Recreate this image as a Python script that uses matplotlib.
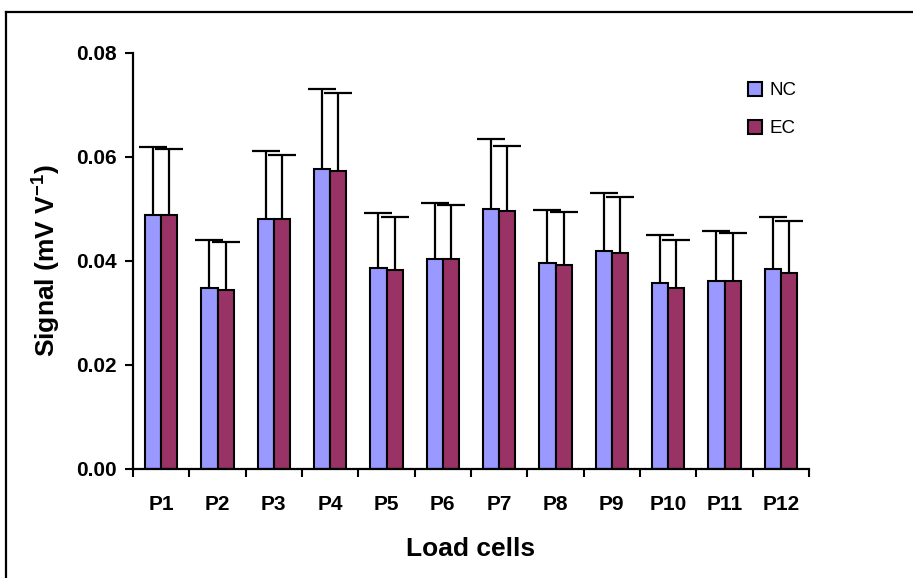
import numpy as np
import matplotlib
matplotlib.use("Agg")
import matplotlib.pyplot as plt
from matplotlib.patches import Patch
from matplotlib.lines import Line2D

plt.rcParams['font.family'] = ['Liberation Sans', 'DejaVu Sans']
plt.rcParams['mathtext.fontset'] = 'custom'
plt.rcParams['mathtext.bf'] = 'Liberation Sans:bold'
plt.rcParams['mathtext.rm'] = 'Liberation Sans'

# load cell names
cells = ['P1', 'P2', 'P3', 'P4', 'P5', 'P6', 'P7', 'P8', 'P9', 'P10', 'P11', 'P12']

# mean signal (mV V-1)
nc_mean = [0.0488, 0.0349, 0.0480, 0.0577, 0.0387, 0.0403, 0.0500, 0.0396, 0.0419, 0.0357, 0.0361, 0.0384]
ec_mean = [0.0488, 0.0345, 0.0480, 0.0573, 0.0383, 0.0403, 0.0496, 0.0392, 0.0415, 0.0349, 0.0361, 0.0376]

# standard deviation (upper bar only)
nc_sd = [0.0131, 0.0092, 0.0131, 0.0153, 0.0105, 0.0108, 0.0134, 0.0103, 0.0111, 0.0093, 0.0096, 0.0100]
ec_sd = [0.0127, 0.0092, 0.0123, 0.0150, 0.0101, 0.0104, 0.0126, 0.0103, 0.0108, 0.0092, 0.0092, 0.0100]

nc_col = '#9999FF'
ec_col = '#993366'

fig = plt.figure(figsize=(9.13, 5.78), dpi=100)
ax = fig.add_axes([133/913, 1 - 469/578, 676/913, 416/578])

x = np.arange(len(cells))
w = 0.285
zero = np.zeros(len(cells))

for pos, mean, sd, col in [(x - w/2, nc_mean, nc_sd, nc_col),
                           (x + w/2, ec_mean, ec_sd, ec_col)]:
    ax.bar(pos, mean, w, color=col, edgecolor='black', linewidth=1.5, zorder=2)
    eb = ax.errorbar(pos, mean, yerr=[zero, sd], fmt='none', ecolor='black',
                     elinewidth=1.6, capthick=1.6, capsize=10, zorder=1)
    # only the upper cap is shown
    eb.lines[1][0].set_visible(False)

ax.set_xlim(-0.5, len(cells) - 0.5)
ax.set_ylim(0, 0.08)
ax.set_yticks(np.arange(0, 0.081, 0.02))
ax.set_yticklabels(['%.2f' % v for v in np.arange(0, 0.081, 0.02)])

# labels at the centres, tick marks between the groups
ax.set_xticks(x)
ax.set_xticklabels(cells)
ax.set_xticks(np.arange(-0.5, len(cells)), minor=True)
ax.tick_params(axis='x', which='major', length=0, pad=19)
ax.tick_params(axis='x', which='minor', length=6, width=1.5, direction='out')
ax.tick_params(axis='y', length=6, width=1.5, direction='out', pad=6)
for lab in ax.get_xticklabels() + ax.get_yticklabels():
    lab.set_fontsize(15)
    lab.set_fontweight('bold')

for s in ['top', 'right']:
    ax.spines[s].set_visible(False)
for s in ['left', 'bottom']:
    ax.spines[s].set_linewidth(1.6)

ax.set_xlabel('Load cells', fontsize=19, fontweight='bold', labelpad=16)
ax.set_ylabel('Signal (mV V$^{\\mathbf{-1}}$)', fontsize=19, fontweight='bold', labelpad=10)

handles = [Patch(facecolor=nc_col, edgecolor='black', linewidth=1.5),
           Patch(facecolor=ec_col, edgecolor='black', linewidth=1.5)]
ax.legend(handles, ['NC', 'EC'], loc='upper left', bbox_to_anchor=(731/913, 1 - 65/578),
          bbox_transform=fig.transFigure, frameon=False, fontsize=13.5,
          handlelength=0.75, handleheight=0.75, handletextpad=0.4, labelspacing=1.1)

# outer chart frame (left and top edges)
fig.add_artist(Line2D([6/913, 6/913], [0, 1 - 12/578], color='black', linewidth=1.6))
fig.add_artist(Line2D([6/913, 1], [1 - 12/578, 1 - 12/578], color='black', linewidth=1.6))

fig.savefig('out.png', dpi=100)
